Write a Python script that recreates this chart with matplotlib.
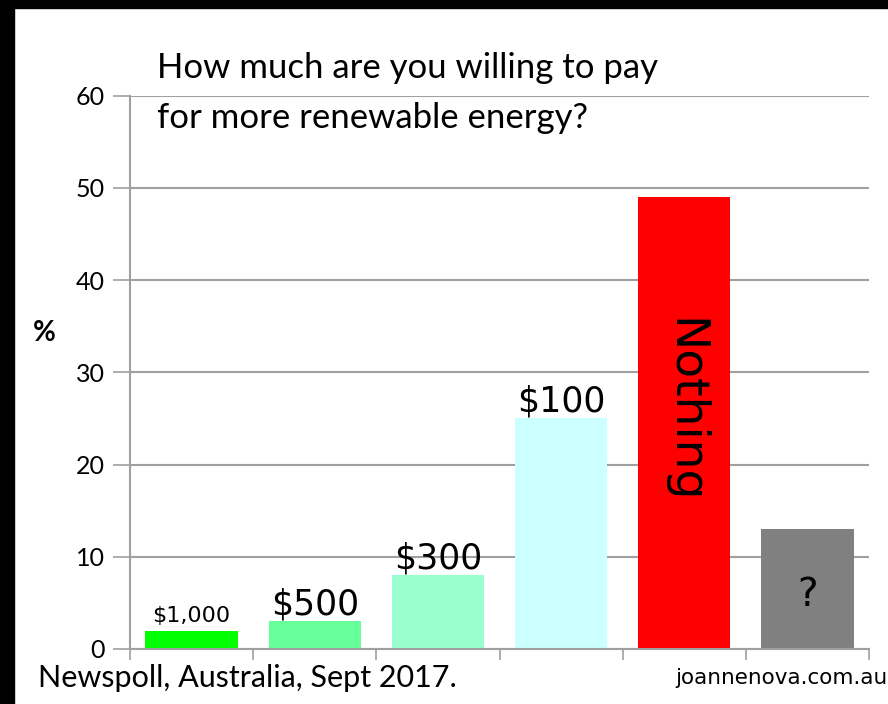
#!/usr/bin/env python3
"""Newspoll renewable energy willingness-to-pay bar chart"""

import matplotlib
matplotlib.use('Agg')
import matplotlib.pyplot as plt
import matplotlib.patches as mpatches

# Data
categories = ['$1,000', '$500', '$300', '$100', 'Nothing', '?']
percent = [2, 3, 8, 25, 49, 13]
bar_colors = ['#00FF00', '#66FF99', '#99FFCC', '#CCFFFF', '#FF0000', '#808080']
y_ticks = [0, 10, 20, 30, 40, 50, 60]

title_lines = ['How much are you willing to pay', 'for more renewable energy?']
source_text = 'Newspoll, Australia, Sept 2017.'
credit_text = 'joannenova.com.au'

plt.rcParams['font.family'] = ['Lato', 'DejaVu Sans']

fig = plt.figure(figsize=(8.88, 7.04), dpi=100)
fig.patch.set_facecolor('white')

# black frame on top and left
fig.add_artist(mpatches.Rectangle((0, 1 - 8 / 704), 1, 8 / 704, transform=fig.transFigure,
                                  color='black', zorder=0))
fig.add_artist(mpatches.Rectangle((0, 0), 14 / 888, 1, transform=fig.transFigure,
                                  color='black', zorder=0))

ax = fig.add_axes([130 / 888, 1 - 649 / 704, (869 - 130) / 888, (649 - 95.5) / 704])

x = list(range(len(categories)))
ax.bar(x, percent, width=0.75, color=bar_colors, zorder=2)

ax.set_xlim(-0.5, len(categories) - 0.5)
ax.set_ylim(0, 60)
ax.set_yticks(y_ticks)
ax.set_yticklabels([str(t) for t in y_ticks], fontsize=18)
ax.yaxis.grid(True, color='#A0A0A0', linewidth=1.5, zorder=0)
ax.set_axisbelow(True)

ax.set_xticks([i - 0.5 for i in range(len(categories) + 1)])
ax.set_xticklabels([])
ax.tick_params(axis='x', direction='out', length=8, color='#A0A0A0', width=1.2)
ax.tick_params(axis='y', direction='out', length=12, color='#A0A0A0', width=1.2, pad=6)

for side in ['top', 'right']:
    ax.spines[side].set_visible(False)
for side in ['left', 'bottom']:
    ax.spines[side].set_color('#A0A0A0')
    ax.spines[side].set_linewidth(1.5)

# bar labels
label_font = 'DejaVu Sans'
ax.annotate(categories[0], (0, percent[0]), xytext=(0, 3), textcoords='offset points',
            ha='center', va='bottom', fontsize=16, family=label_font)
for i in (1, 2, 3):
    ax.annotate(categories[i], (i, percent[i]), xytext=(0, 0), textcoords='offset points',
                ha='center', va='bottom', fontsize=25, family=label_font)
ax.text(4, 25.8, categories[4], rotation=-90, ha='center', va='center',
        fontsize=34, family=label_font)
ax.text(5, 5.8, categories[5], ha='center', va='center', fontsize=28, family=label_font)

# title, axis label and footers
fig.text(157 / 888, 1 - 68 / 704, title_lines[0], fontsize=25, va='center', ha='left')
fig.text(157 / 888, 1 - 118 / 704, title_lines[1], fontsize=25, va='center', ha='left')
fig.text(33 / 888, 1 - 333 / 704, '%', fontsize=20, va='center', ha='left', weight='bold')
fig.text(38 / 888, 1 - 678 / 704, source_text, fontsize=22, va='center', ha='left')
fig.text(888 / 888, 1 - 678 / 704, credit_text, fontsize=15.5, va='center', ha='right',
         family='DejaVu Sans')

fig.savefig('out.png', dpi=100)
plt.close(fig)
